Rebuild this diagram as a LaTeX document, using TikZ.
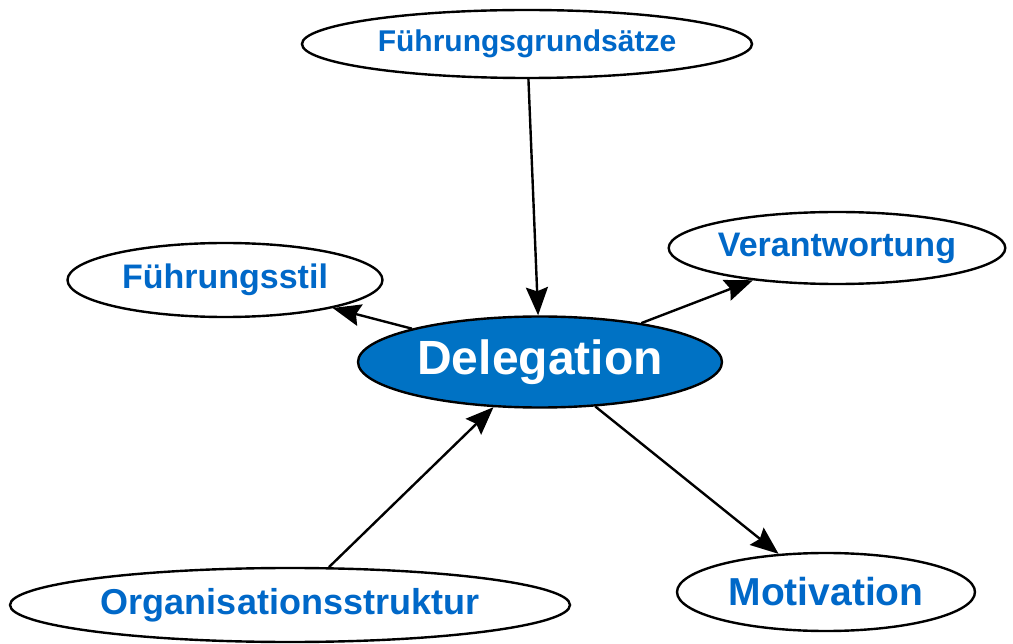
\documentclass[tikz,border=0pt]{standalone}
\usepackage{fontspec}
\setmainfont{Liberation Sans}
\usetikzlibrary{shapes.geometric,arrows.meta}
\definecolor{lblue}{RGB}{0,104,200}
\definecolor{dblue}{RGB}{0,114,196}
\tikzset{
  topic/.style={ellipse, draw=black, line width=2.4pt, fill=white, inner sep=0pt,
    text=lblue, font=\bfseries},
  central/.style={ellipse, draw=black, line width=2.4pt, fill=dblue, inner sep=0pt,
    text=white, font=\bfseries\fontsize{48}{50}\selectfont},
  link/.style={line width=2.4pt, draw=black, -{Stealth[length=28pt,width=22pt,inset=4pt]}}
}
\begin{document}
\begin{tikzpicture}[x=1pt,y=-1pt]
\useasboundingbox (0,0) rectangle (1013,644);
\node[topic, minimum width=450pt, minimum height=68pt, font=\bfseries\fontsize{30}{32}\selectfont] (fg) at (527,44) {Führungsgrundsätze};
\node[topic, minimum width=330pt, minimum height=72pt, font=\bfseries\fontsize{34}{36}\selectfont] (ver) at (837,248) {Verantwortung};
\node[topic, minimum width=315pt, minimum height=74pt, font=\bfseries\fontsize{34}{36}\selectfont] (fst) at (225,280) {Führungsstil};
\node[central, minimum width=364pt, minimum height=91pt] (del) at (540,362) {Delegation};
\node[topic, minimum width=560pt, minimum height=74pt, font=\bfseries\fontsize{36}{38}\selectfont] (org) at (290,605) {Organisationsstruktur};
\node[topic, minimum width=298pt, minimum height=78pt, font=\bfseries\fontsize{39}{41}\selectfont] (mot) at (826,592) {Motivation};
\draw[link] (fg) -- (del);
\draw[link] (del) -- (fst);
\draw[link] (del) -- (ver);
\draw[link] (org) -- (del);
\draw[link] (del) -- (mot);
\end{tikzpicture}
\end{document}
